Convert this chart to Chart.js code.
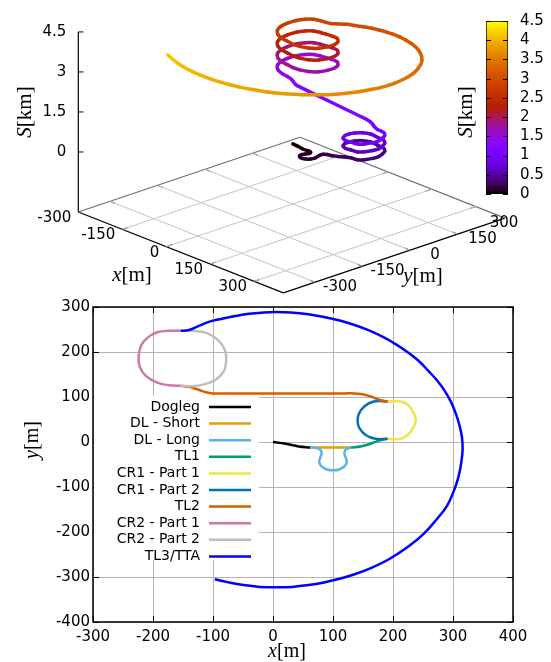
<!DOCTYPE html>
<html>
<head>
<meta charset="utf-8">
<script src="https://cdn.jsdelivr.net/npm/chart.js@4.4.1/dist/chart.umd.min.js"></script>
<style>
  body { margin: 0; background: #fff; }
  #wrap { position: relative; width: 551px; height: 662px; overflow: hidden; }
  canvas { position: absolute; }
  #top { left: 0; top: 0; }
  #plane { left: 0; top: 295px; }
  #cbar { left: 480px; top: 0; }
</style>
</head>
<body>
<div id="wrap">
  <canvas id="top" width="551" height="300"></canvas>
  <canvas id="plane" width="551" height="367"></canvas>
  <canvas id="cbar" width="71" height="215"></canvas>
</div>
<script>
// line segments of the design, [x m, y m]
const segmentNames = ['Dogleg', 'DL - Short', 'DL - Long', 'TL1', 'CR1 - Part 1', 'CR1 - Part 2', 'TL2', 'CR2 - Part 1', 'CR2 - Part 2', 'TL3/TTA']
const segmentColors = ['#000000', '#E69F00', '#56B4E9', '#009E73', '#F0E442', '#0072B2', '#D55E00', '#CC79A7', '#BEBEBE', '#0000FF']

const dogleg = [[0, 0], [21, -4], [43, -10], [62, -12]]
const dlShort = [[62, -12], [130, -12]]
const dlLong = [[62, -12], [70, -12], [78, -16], [81, -24], [79, -34], [77, -44], [81, -54], [90, -61], [100, -63],
    [110, -61], [119, -54], [123, -44], [121, -34], [119, -24], [122, -16], [130, -12]]
const tl1 = [[130, -12], [146, -10], [160, -5], [174, 2], [191, 7]]
const cr1Part1 = [[191, 7], [213, 7], [226, 18], [235, 35], [238, 50], [234, 65], [226, 81], [213, 90], [191, 90]]
const cr1Part2 = [[191, 90], [168, 90], [152, 79], [143, 62], [141, 46], [144, 31], [155, 15], [171, 7], [191, 7]]
const tl2 = [[191, 90], [177, 94], [163, 101], [149, 106], [135, 108], [120, 108], [0, 108], [-90, 108], [-100, 108],
    [-110, 110], [-124, 116], [-138, 122], [-154, 125]]
const cr2Part1 = [[-154, 125], [-173, 126], [-193, 132], [-212, 147], [-222, 167], [-224, 190], [-220, 214], [-209, 232],
    [-193, 244], [-173, 247], [-154, 247]]
const cr2Part2 = [[-154, 247], [-135, 247], [-110, 242], [-91, 226], [-80, 204], [-78, 181], [-82, 157], [-96, 138],
    [-115, 128], [-135, 124], [-154, 125]]
const tl3 = [[-154, 247], [-140, 249], [-127, 256], [-107, 267], [-85, 274], [-63, 280], [-40, 285], [-15, 288], [5, 289],
    [30, 288], [59, 284], [85, 278], [111, 270], [136, 260], [160, 248], [184, 233], [205, 217], [225, 199], [243, 180],
    [259, 158], [274, 136], [287, 112], [297, 88], [305, 62], [311, 36], [315, 10], [316, -17], [314, -44], [309, -78],
    [301, -110], [290, -142], [274, -170], [252, -203], [225, -233], [194, -260], [160, -282], [136, -294], [111, -304],
    [85, -312], [59, -318], [32, -322], [5, -323], [-22, -322], [-49, -318], [-74, -312], [-97, -305]]

const planeSegments = [dogleg, dlShort, dlLong, tl1, cr1Part1, cr1Part2, tl2, cr2Part1, cr2Part2, tl3]

// order in which the beam runs through the segments (3D view), S = path length
const route3d = ['Dogleg', 'DL - Long', 'TL1',
    'CR1 - Part 1', 'CR1 - Part 2', 'CR1 - Part 1', 'CR1 - Part 2', 'CR1 - Part 1',
    'TL2',
    'CR2 - Part 1', 'CR2 - Part 2', 'CR2 - Part 1', 'CR2 - Part 2', 'CR2 - Part 1', 'CR2 - Part 2', 'CR2 - Part 1',
    'TL3/TTA']

// axes
const xRange2d = [-300, 400]
const yRange2d = [-400, 300]
const x3dRange = [-300, 400]
const y3dRange = [-400, 300]
const sRange = [0, 4.5]
const x3dTicks = [-300, -150, 0, 150, 300]
const y3dTicks = [-300, -150, 0, 150, 300]
const sTicks = [0, 1.5, 3, 4.5]

// view of the 3D box
const VIEW = { rotX: 68.6, rotZ: 47.24, scale: 151, zScale: 0.427, ticslevel: 0.5 }
const baseZ = sRange[0] - VIEW.ticslevel * (sRange[1] - sRange[0])

function project(x, y, z) {
    const a = VIEW.rotZ * Math.PI / 180
    const c = Math.cos(VIEW.rotX * Math.PI / 180)
    const sx = Math.sin(VIEW.rotX * Math.PI / 180)
    const xn = (x - (x3dRange[0] + x3dRange[1]) / 2) / ((x3dRange[1] - x3dRange[0]) / 2)
    const yn = (y - (y3dRange[0] + y3dRange[1]) / 2) / ((y3dRange[1] - y3dRange[0]) / 2)
    const zn = (z - (sRange[0] + sRange[1]) / 2) / ((sRange[1] - sRange[0]) / 2)
    const s = VIEW.scale
    return {
        x: s * (xn * Math.cos(a) + yn * Math.sin(a)),
        y: -s * c * (xn * Math.sin(a) - yn * Math.cos(a)) + s * sx * VIEW.zScale * zn
    }
}

// gnuplot default palette (rgbformulae 7,5,15)
function palette(t) {
    t = Math.min(1, Math.max(0, t))
    const r = Math.sqrt(t), g = t * t * t, b = Math.max(0, Math.sin(2 * Math.PI * t))
    return `rgb(${Math.round(r * 255)},${Math.round(g * 255)},${Math.round(b * 255)})`
}

const pathByName = {}
segmentNames.forEach((n, i) => { pathByName[n] = planeSegments[i] })

// build the 3D track
const track = []
let sAcc = 0
route3d.forEach(name => {
    pathByName[name].forEach((p, i) => {
        if (track.length && i === 0) return
        if (track.length) {
            const q = track[track.length - 1]
            sAcc += Math.hypot(p[0] - q.x, p[1] - q.y) / 1000
        }
        track.push({ x: p[0], y: p[1], s: sAcc })
    })
})

function line3d(p, q, color, width) {
    return {
        data: [project(p[0], p[1], p[2]), project(q[0], q[1], q[2])],
        showLine: true, borderColor: color, borderWidth: width, pointRadius: 0, order: 2
    }
}

const boxDatasets = []
// grid on the base plane
x3dTicks.filter(v => v > x3dRange[0]).forEach(v => {
    boxDatasets.push(line3d([v, y3dRange[0], baseZ], [v, y3dRange[1], baseZ], '#c4c4c4', 1))
})
y3dTicks.filter(v => v < y3dRange[1]).forEach(v => {
    boxDatasets.push(line3d([x3dRange[0], v, baseZ], [x3dRange[1], v, baseZ], '#c4c4c4', 1))
})
// edges
boxDatasets.push(line3d([x3dRange[0], y3dRange[0], baseZ], [x3dRange[0], y3dRange[1], baseZ], '#707070', 1.2))
boxDatasets.push(line3d([x3dRange[0], y3dRange[1], baseZ], [x3dRange[1], y3dRange[1], baseZ], '#707070', 1.2))
boxDatasets.push(line3d([x3dRange[0], y3dRange[0], baseZ], [x3dRange[1], y3dRange[0], baseZ], '#000', 1.2))
boxDatasets.push(line3d([x3dRange[1], y3dRange[0], baseZ], [x3dRange[1], y3dRange[1], baseZ], '#000', 1.2))
// tics on the edges
x3dTicks.filter(v => v > x3dRange[0]).forEach(v => {
    boxDatasets.push(line3d([v, y3dRange[0], baseZ], [v, y3dRange[0] + 18, baseZ], '#000', 1))
    boxDatasets.push(line3d([v, y3dRange[1], baseZ], [v, y3dRange[1] - 18, baseZ], '#333', 1))
})
y3dTicks.filter(v => v < y3dRange[1]).forEach(v => {
    boxDatasets.push(line3d([x3dRange[0], v, baseZ], [x3dRange[0] + 18, v, baseZ], '#333', 1))
    boxDatasets.push(line3d([x3dRange[1], v, baseZ], [x3dRange[1] - 18, v, baseZ], '#000', 1))
})
// vertical S axis
boxDatasets.push(line3d([x3dRange[0], y3dRange[0], baseZ], [x3dRange[0], y3dRange[0], sRange[1]], '#000', 1.2))

const trackData = track.map(p => project(p.x, p.y, p.s))

function drawMath(ctx, parts, cx, cy, size, rot) {
    ctx.save()
    ctx.translate(cx, cy)
    if (rot) ctx.rotate(rot)
    let w = 0
    parts.forEach(p => {
        ctx.font = (p.it ? 'italic ' : '') + size + 'px "Liberation Serif"'
        w += ctx.measureText(p.t).width
    })
    let x = -w / 2
    ctx.textBaseline = 'middle'
    ctx.textAlign = 'left'
    parts.forEach(p => {
        ctx.font = (p.it ? 'italic ' : '') + size + 'px "Liberation Serif"'
        ctx.fillText(p.t, x, 0)
        x += ctx.measureText(p.t).width
    })
    ctx.restore()
}

const text3d = {
    id: 'text3d',
    afterDraw(chart) {
        const ctx = chart.ctx
        const sx = chart.scales.x, sy = chart.scales.y
        const px = p => [sx.getPixelForValue(p.x), sy.getPixelForValue(p.y)]
        ctx.save()
        ctx.fillStyle = '#000'
        ctx.font = '15px "DejaVu Sans"'
        ctx.textBaseline = 'middle'
        // S tics
        ctx.strokeStyle = '#000'
        ctx.lineWidth = 1
        sTicks.forEach(v => {
            const [a, b] = px(project(x3dRange[0], y3dRange[0], v))
            ctx.beginPath(); ctx.moveTo(a, b); ctx.lineTo(a + 5, b); ctx.stroke()
            ctx.textAlign = 'right'
            ctx.fillText(String(v), a - 12, b)
        })
        x3dTicks.forEach(v => {
            const [a, b] = px(project(v, y3dRange[0], baseZ))
            ctx.textAlign = 'right'
            ctx.fillText(String(v), a - 7, b + 6)
        })
        y3dTicks.forEach(v => {
            const [a, b] = px(project(x3dRange[1], v, baseZ))
            ctx.textAlign = 'center'
            if (v === y3dTicks[y3dTicks.length - 1]) ctx.fillText(String(v), a - 1, b + 5)
            else ctx.fillText(String(v), a + 25, b + 4.5)
        })
        ctx.restore()
        drawMath(ctx, [{ t: 'x', it: true }, { t: '[m]' }], 132, 275, 21)
        drawMath(ctx, [{ t: 'y', it: true }, { t: '[m]' }], 423, 276, 21)
        drawMath(ctx, [{ t: 'S', it: true }, { t: '[km]' }], 25, 112, 21, -Math.PI / 2)
        drawMath(ctx, [{ t: 'S', it: true }, { t: '[km]' }], 466, 112, 21, -Math.PI / 2)
    }
}

new Chart(document.getElementById('top'), {
    type: 'scatter',
    data: {
        datasets: [...boxDatasets, {
            data: trackData,
            showLine: true, pointRadius: 0, borderWidth: 3.5, tension: 0.3,
            borderCapStyle: 'round', borderJoinStyle: 'round', order: 0,
            segment: {
                borderColor: c => palette((track[c.p0DataIndex].s + track[c.p1DataIndex].s) / 2 / sRange[1])
            }
        }]
    },
    options: {
        responsive: false, animation: false, events: [],
        layout: { padding: 0 },
        plugins: { legend: { display: false }, tooltip: { enabled: false } },
        scales: {
            x: { type: 'linear', display: false, min: -291.7, max: 259.3 },
            y: { type: 'linear', display: false, min: -205, max: 95 }
        }
    },
    plugins: [text3d]
})

// colour box
const cbarTicks = {
    id: 'cbarTicks',
    afterDraw(chart) {
        const ctx = chart.ctx, a = chart.chartArea, sy = chart.scales.y
        ctx.save()
        ctx.strokeStyle = '#000'
        ctx.lineWidth = 1
        sy.ticks.forEach(t => {
            const y = Math.round(sy.getPixelForValue(t.value)) + 0.5
            ctx.beginPath()
            ctx.moveTo(a.left, y); ctx.lineTo(a.left + 5, y)
            ctx.moveTo(a.right, y); ctx.lineTo(a.right - 5, y)
            ctx.stroke()
        })
        ctx.restore()
    }
}

new Chart(document.getElementById('cbar'), {
    type: 'bar',
    data: {
        labels: ['S'],
        datasets: [{
            data: [[sRange[0], sRange[1]]],
            backgroundColor: c => {
                const a = c.chart.chartArea
                if (!a) return '#000'
                const g = c.chart.ctx.createLinearGradient(0, a.bottom, 0, a.top)
                for (let i = 0; i <= 40; i++) g.addColorStop(i / 40, palette(i / 40))
                return g
            },
            borderColor: '#000', borderWidth: 1, borderSkipped: false,
            barPercentage: 1, categoryPercentage: 1
        }]
    },
    options: {
        responsive: false, animation: false, events: [],
        layout: { padding: { left: 6, top: 13, bottom: 13, right: 0 } },
        plugins: { legend: { display: false }, tooltip: { enabled: false } },
        scales: {
            x: { display: false },
            y: {
                position: 'right', min: sRange[0], max: sRange[1],
                ticks: {
                    stepSize: 0.5, color: '#000', font: { family: 'DejaVu Sans', size: 15 }, padding: 12,
                    callback: v => String(Math.round(v * 10) / 10)
                },
                grid: { display: false, drawTicks: false }, border: { display: false },
                afterFit: s => { s.width = 43 }
            }
        }
    },
    plugins: [cbarTicks]
})

// 2D layout
const frame2d = {
    id: 'frame2d',
    afterDraw(chart) {
        const ctx = chart.ctx, a = chart.chartArea
        const sx = chart.scales.x, sy = chart.scales.y
        ctx.save()
        ctx.strokeStyle = '#000'
        ctx.lineWidth = 1
        sx.ticks.forEach(t => {
            const x = Math.round(sx.getPixelForValue(t.value)) + 0.5
            ctx.beginPath()
            ctx.moveTo(x, a.bottom); ctx.lineTo(x, a.bottom - 6)
            ctx.moveTo(x, a.top); ctx.lineTo(x, a.top + 6)
            ctx.stroke()
        })
        sy.ticks.forEach(t => {
            const y = Math.round(sy.getPixelForValue(t.value)) + 0.5
            ctx.beginPath()
            ctx.moveTo(a.left, y); ctx.lineTo(a.left + 6, y)
            ctx.moveTo(a.right, y); ctx.lineTo(a.right - 6, y)
            ctx.stroke()
        })
        ctx.lineWidth = 1.5
        ctx.strokeRect(a.left, a.top, a.right - a.left, a.bottom - a.top)

        // key
        ctx.fillStyle = '#fff'
        ctx.fillRect(a.left + 1, 101, 165, 164)
        ctx.font = '14px "DejaVu Sans"'
        ctx.textAlign = 'right'
        ctx.textBaseline = 'middle'
        chart.data.datasets.forEach((d, i) => {
            const y = 112 + i * 16.6
            ctx.fillStyle = '#000'
            ctx.fillText(d.label, 200, y)
            ctx.strokeStyle = d.borderColor
            ctx.lineWidth = 2.5
            ctx.beginPath(); ctx.moveTo(209, y); ctx.lineTo(251, y); ctx.stroke()
        })
        ctx.restore()
        drawMath(ctx, [{ t: 'x', it: true }, { t: '[m]' }], 287, 357, 20)
        drawMath(ctx, [{ t: 'y', it: true }, { t: '[m]' }], 33, 145, 20, -Math.PI / 2)
    }
}

new Chart(document.getElementById('plane'), {
    type: 'scatter',
    data: {
        datasets: planeSegments.map((pts, i) => ({
            label: segmentNames[i],
            data: pts.map(p => ({ x: p[0], y: p[1] })),
            showLine: true, borderColor: segmentColors[i], borderWidth: 2.5,
            pointRadius: 0, tension: 0.4, order: 20 - i
        }))
    },
    options: {
        responsive: false, animation: false, events: [],
        layout: { padding: { left: 0, right: 38, top: 10, bottom: 0 } },
        plugins: { legend: { display: false }, tooltip: { enabled: false } },
        scales: {
            x: {
                type: 'linear', min: xRange2d[0], max: xRange2d[1],
                ticks: { stepSize: 100, color: '#000', font: { family: 'DejaVu Sans', size: 15 }, padding: 6, maxRotation: 0 },
                grid: { color: '#b4b4b4', drawTicks: false }, border: { display: false },
                afterFit: s => { s.height = 40 }
            },
            y: {
                type: 'linear', min: yRange2d[0], max: yRange2d[1],
                ticks: { stepSize: 100, color: '#000', font: { family: 'DejaVu Sans', size: 15 }, padding: 3 },
                grid: { color: '#b4b4b4', drawTicks: false }, border: { display: false },
                afterFit: s => { s.width = 93 }
            }
        }
    },
    plugins: [frame2d]
})
</script>
</body>
</html>
